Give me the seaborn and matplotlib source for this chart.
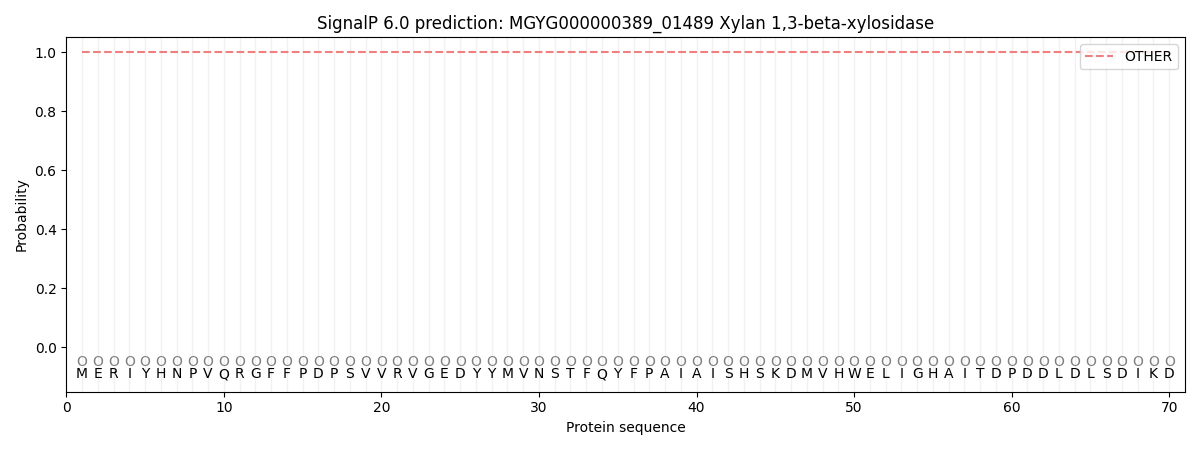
import matplotlib
matplotlib.use("Agg")
import matplotlib.pyplot as plt
import seaborn as sns
import numpy as np
import pandas as pd

sequence = list("MERIYHNPVQRGFFPDPSVVRVGEDYYMVNSTFQYFPAIAISHSKDMVHWELIGHAITDPDDLDLSDIKD")
positions = list(range(1, len(sequence) + 1))
other_prob = [1.0] * len(sequence)
pred_labels = ["O"] * len(sequence)

df = pd.DataFrame({"pos": positions, "OTHER": other_prob})

fig, ax = plt.subplots(figsize=(12, 4.5), dpi=100)

for p in positions:
    ax.axvline(p, color="#e8e8e8", linewidth=1, alpha=0.6, zorder=0)

sns.lineplot(data=df, x="pos", y="OTHER", ax=ax, color="#f08080", linestyle="--",
             label="OTHER", linewidth=1.5)

for p, aa, lab in zip(positions, sequence, pred_labels):
    ax.text(p, -0.05, lab, ha="center", va="center", fontsize=10, color="grey")
    ax.text(p, -0.09, aa, ha="center", va="center", fontsize=10, color="black")

ax.set_xlim(0, 71)
ax.set_ylim(-0.15, 1.05)
ax.set_xlabel("Protein sequence")
ax.set_ylabel("Probability")
ax.set_title("SignalP 6.0 prediction: MGYG000000389_01489 Xylan 1,3-beta-xylosidase")
ax.legend(loc="upper right")
fig.tight_layout()
fig.savefig("out.png")
